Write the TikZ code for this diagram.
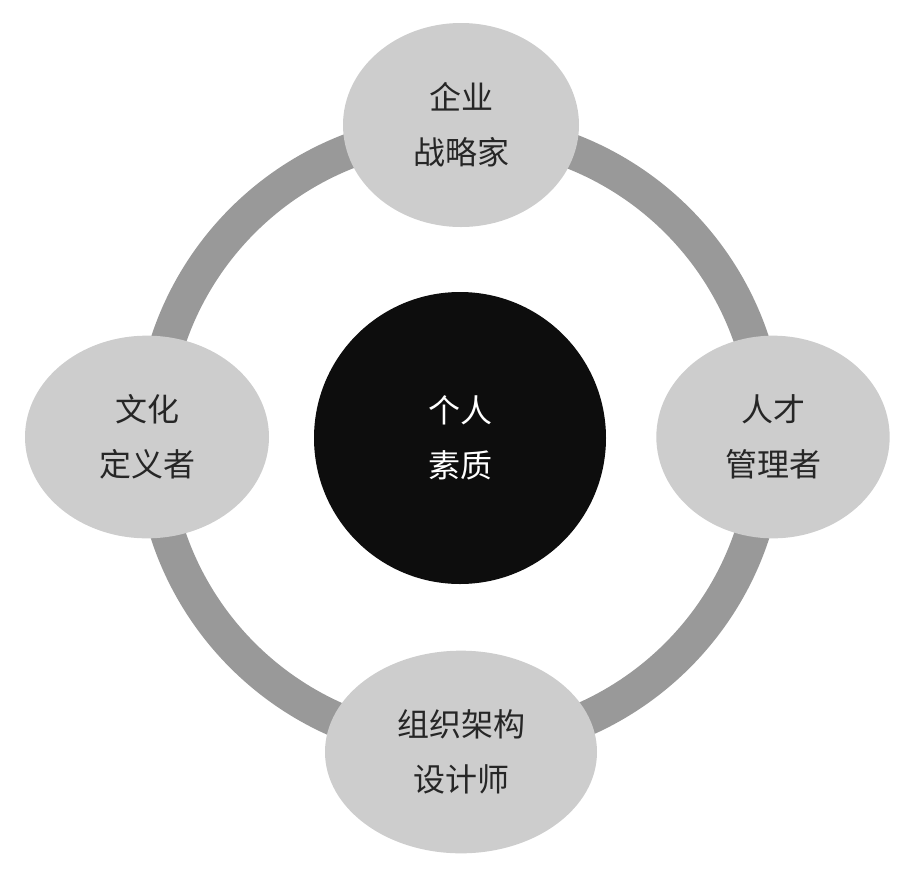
\documentclass[tikz,border=0pt]{standalone}
\usepackage{fontspec}
\setmainfont{Noto Sans CJK SC}
\usetikzlibrary{shapes.geometric}
\definecolor{ringgray}{RGB}{153,153,153}
\definecolor{rolegray}{RGB}{205,205,205}
\definecolor{coreblack}{RGB}{13,13,13}

\begin{document}
\begin{tikzpicture}[x=0.75pt, y=0.75pt,
	role/.style={ellipse, fill=rolegray, inner sep=0pt, align=center, text=black!85, font=\fontsize{24}{41}\selectfont},
	core/.style={circle, fill=coreblack, minimum size=219pt, inner sep=0pt, align=center, text=white, font=\fontsize{24}{41}\selectfont}]
			
			\useasboundingbox (0,0) rectangle (904,-872);
			
			\draw[color=ringgray, line width=26.25pt] (460,-438) circle (307.5);
			
			\node[core] (core) at (460,-438) {个人\\素质};
			
			\node[role, minimum width=177pt, minimum height=153pt] (strategist) at (461,-125) {企业\\战略家};
			\node[role, minimum width=183pt, minimum height=152pt] (culture) at (147,-437) {文化\\定义者};
			\node[role, minimum width=175pt, minimum height=152pt] (talent) at (773,-437) {人才\\管理者};
			\node[role, minimum width=204pt, minimum height=152pt] (designer) at (461,-752) {组织架构\\设计师};
			
			\end{tikzpicture}
\end{document}
